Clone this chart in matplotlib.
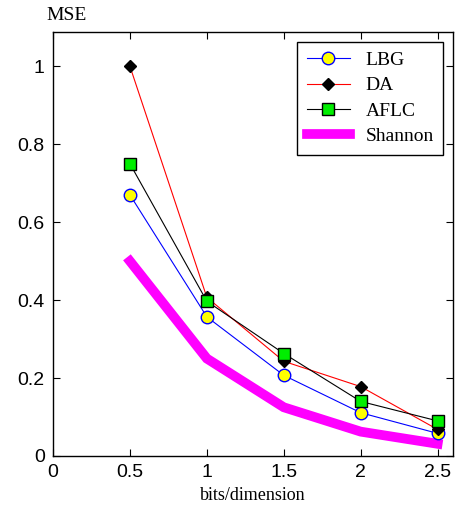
import matplotlib
matplotlib.use('Agg')
import matplotlib.pyplot as plt

# data
bits = [0.5, 1.0, 1.5, 2.0, 2.5]
lbg = [0.67, 0.357, 0.207, 0.111, 0.058]
da = [1.0, 0.407, 0.243, 0.178, 0.068]
aflc = [0.75, 0.397, 0.263, 0.140, 0.090]
shannon = [0.5, 0.25, 0.125, 0.0625, 0.03125]

xticks = [0, 0.5, 1, 1.5, 2, 2.5]
yticks = [0, 0.2, 0.4, 0.6, 0.8, 1]

serif = ['Liberation Serif', 'DejaVu Serif']
sans = ['Liberation Sans', 'DejaVu Sans']

fig = plt.figure(figsize=(4.59, 5.19), dpi=100)
ax = fig.add_axes([0.1155, 0.1214, 0.8715, 0.8169])

ax.plot(bits, lbg, '-o', color='blue', lw=0.8, mfc='yellow', mec='blue',
        ms=9, label='LBG')
ax.plot(bits, da, '-D', color='red', lw=0.8, mfc='black', mec='black',
        ms=6, label='DA')
ax.plot(bits, aflc, '-s', color='black', lw=0.8, mfc='#00ee00', mec='black',
        ms=8, label='AFLC')
ax.plot(bits, shannon, '-', color='magenta', lw=7, label='Shannon',
        solid_joinstyle='miter', zorder=1)

ax.set_xlim(0, 2.6)
ax.set_ylim(0, 1.088)
ax.set_xticks(xticks)
ax.set_xticklabels(['0', '0.5', '1', '1.5', '2', '2.5'])
ax.set_yticks(yticks)
ax.set_yticklabels(['0', '0.2', '0.4', '0.6', '0.8', '1'])
ax.tick_params(direction='in', top=True, right=True, length=5, width=0.8,
               labelsize=14, pad=6)
for lab in ax.get_xticklabels() + ax.get_yticklabels():
    lab.set_family(sans)
for sp in ax.spines.values():
    sp.set_linewidth(1.0)

ax.set_xlabel('bits/dimension', family=serif, fontsize=13, labelpad=4)
fig.text(46 / 459, 1 - 16 / 519, 'MSE', family=serif, fontsize=14,
         va='center', ha='left')

leg = ax.legend(loc='upper right', prop={'family': serif, 'size': 14},
                fancybox=False, edgecolor='black', framealpha=1,
                borderaxespad=0.5, handlelength=2.2, labelspacing=0.4,
                borderpad=0.5, handletextpad=0.8)
leg.get_frame().set_linewidth(1.0)

fig.savefig('out.png', dpi=100)
